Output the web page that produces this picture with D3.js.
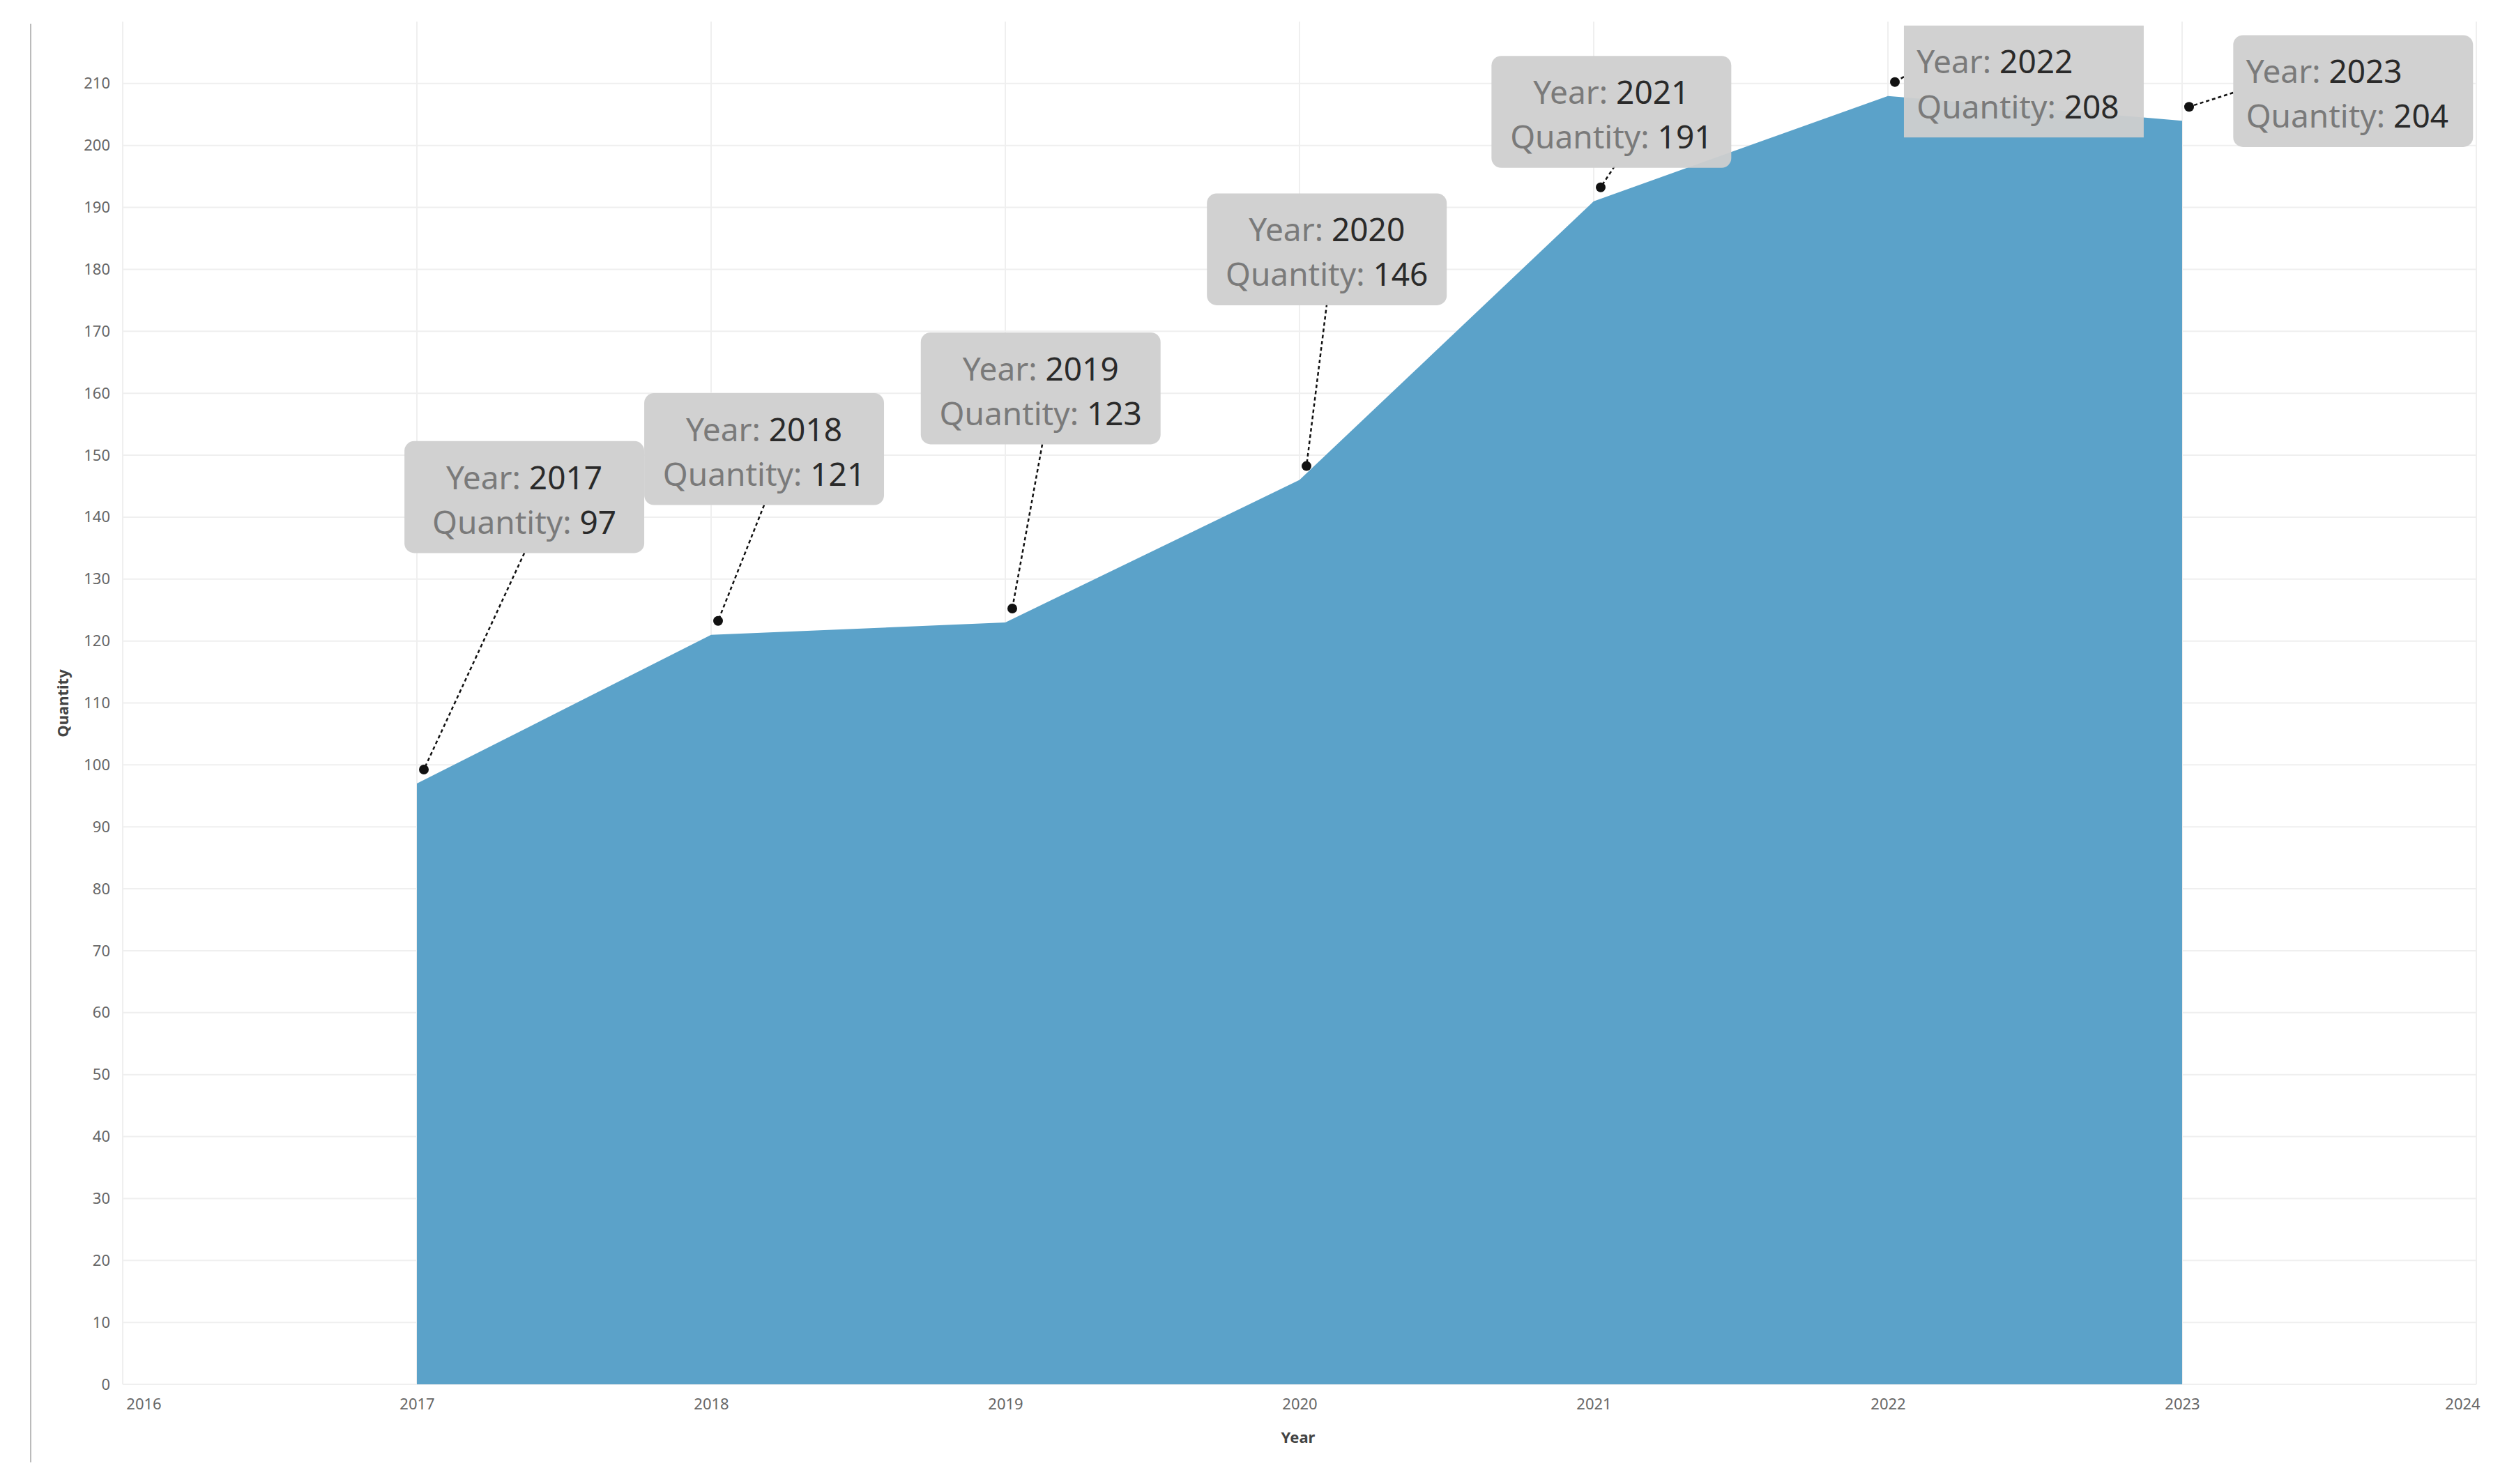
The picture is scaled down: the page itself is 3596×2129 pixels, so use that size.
<!DOCTYPE html>
<html><head><meta charset="utf-8">
<script src="https://cdn.jsdelivr.net/npm/d3@7"></script>
<style>body{margin:0;background:#fff}text{font-family:"Noto Sans",sans-serif}</style>
</head><body>
<script>
var years = [2017, 2018, 2019, 2020, 2021, 2022, 2023],
    quantities = [97, 121, 123, 146, 191, 208, 204],
    yTicks = d3.range(0, 211, 10),
    xTicks = d3.range(2016, 2025);

// callout boxes, in reference units (scaled by k below)
var boxes = [
  {x: 253, y: 276, from: [328, 346], align: 'middle', round: true},
  {x: 403, y: 246, from: [478, 316], align: 'middle', round: true},
  {x: 576, y: 208, from: [652, 278], align: 'middle', round: true},
  {x: 755, y: 121, from: [830, 190], align: 'middle', round: true},
  {x: 933, y: 35, from: [1010, 104], align: 'middle', round: true},
  {x: 1191, y: 16, from: [1191, 48], align: 'start', round: false},
  {x: 1397, y: 22, from: [1397, 58], align: 'start', round: true}
];

var width = 3596, height = 2129, k = 2.293;

var svg = d3.select('body').append('svg')
    .attr('width', width).attr('height', height);

var x = d3.scaleLinear().domain([2016, 2024]).range([176, 3552]);
var y = d3.scaleLinear().domain([0, 220]).range([1986, 31]);

// left frame line
svg.append('line').attr('x1', 44).attr('x2', 44).attr('y1', 34).attr('y2', 2098)
  .attr('stroke', '#bbb').attr('stroke-width', 2);

// grid
svg.append('g').selectAll('line').data(yTicks).enter().append('line')
  .attr('x1', x(2016)).attr('x2', x(2024))
  .attr('y1', function(d) { return y(d); }).attr('y2', function(d) { return y(d); })
  .attr('stroke', '#efefef').attr('stroke-width', 2);
svg.append('g').selectAll('line').data(xTicks).enter().append('line')
  .attr('x1', function(d) { return x(d); }).attr('x2', function(d) { return x(d); })
  .attr('y1', y(220)).attr('y2', y(0))
  .attr('stroke', '#efefef').attr('stroke-width', 2);

// area
var data = years.map(function(yr, i) { return {year: yr, value: quantities[i]}; });
var area = d3.area()
  .x(function(d) { return x(d.year); })
  .y0(y(0))
  .y1(function(d) { return y(d.value); });
svg.append('path').datum(data).attr('d', area).attr('fill', '#5ba2c9');

// axes
var yAxis = svg.append('g').attr('transform', 'translate(' + (x(2016) - 10) + ',0)')
  .call(d3.axisLeft(y).tickValues(yTicks).tickSize(0).tickPadding(8));
var xAxis = svg.append('g').attr('transform', 'translate(0,' + (y(0) + 12) + ')')
  .call(d3.axisBottom(x).tickValues(xTicks).tickFormat(d3.format('d')).tickSize(0).tickPadding(8));
[yAxis, xAxis].forEach(function(a) {
  a.select('.domain').remove();
  a.selectAll('text').attr('font-size', 22).attr('fill', '#666');
});
xAxis.selectAll('text').attr('dx', function(d) { return d === 2016 ? 30 : d === 2024 ? -20 : 0; });

svg.append('text').attr('transform', 'translate(98,1009) rotate(-90)')
  .attr('text-anchor', 'middle').attr('font-size', 22).attr('font-weight', 'bold')
  .attr('fill', '#444').text('Quantity');
svg.append('text').attr('x', 1862).attr('y', 2070)
  .attr('text-anchor', 'middle').attr('font-size', 22).attr('font-weight', 'bold')
  .attr('fill', '#444').text('Year');

// annotations
var ann = svg.append('g').selectAll('g').data(data).enter().append('g');
ann.append('line')
  .attr('x1', function(d, i) { return boxes[i].from[0] * k; })
  .attr('y1', function(d, i) { return boxes[i].from[1] * k; })
  .attr('x2', function(d) { return x(d.year) + 10; })
  .attr('y2', function(d) { return y(d.value) - 20; })
  .attr('stroke', '#111').attr('stroke-width', 2.5).attr('stroke-dasharray', '5,4');
ann.append('circle')
  .attr('cx', function(d) { return x(d.year) + 10; })
  .attr('cy', function(d) { return y(d.value) - 20; })
  .attr('r', 7).attr('fill', '#111');
ann.append('rect')
  .attr('x', function(d, i) { return boxes[i].x * k; })
  .attr('y', function(d, i) { return boxes[i].y * k; })
  .attr('width', 150 * k).attr('height', 70 * k)
  .attr('rx', function(d, i) { return boxes[i].round ? 14 : 0; })
  .attr('fill', '#cfcfcf').attr('fill-opacity', 0.95);
function label(sel, line, name, val) {
  var t = sel.append('text')
    .attr('x', function(d, i) { return boxes[i].align === 'middle' ? (boxes[i].x + 75) * k : (boxes[i].x + 8) * k; })
    .attr('y', function(d, i) { return (boxes[i].y + 30 + line * 28) * k; })
    .attr('text-anchor', function(d, i) { return boxes[i].align; })
    .attr('font-size', 46);
  t.append('tspan').attr('fill', '#7a7a7a').text(name + ': ');
  t.append('tspan').attr('fill', '#2a2a2a').attr('font-weight', 500).text(val);
}
ann.each(function(d, i) {
  var g = d3.select(this);
  g.datum(d);
  var sel = d3.select(this);
  var t1 = sel.append('text').attr('font-size', 46).attr('text-anchor', boxes[i].align)
    .attr('x', boxes[i].align === 'middle' ? (boxes[i].x + 75) * k : (boxes[i].x + 8) * k)
    .attr('y', (boxes[i].y + 30) * k);
  t1.append('tspan').attr('fill', '#7a7a7a').text('Year: ');
  t1.append('tspan').attr('fill', '#2a2a2a').text(d.year);
  var t2 = sel.append('text').attr('font-size', 46).attr('text-anchor', boxes[i].align)
    .attr('x', boxes[i].align === 'middle' ? (boxes[i].x + 75) * k : (boxes[i].x + 8) * k)
    .attr('y', (boxes[i].y + 58) * k);
  t2.append('tspan').attr('fill', '#7a7a7a').text('Quantity: ');
  t2.append('tspan').attr('fill', '#2a2a2a').text(d.value);
});
</script>
</body></html>
